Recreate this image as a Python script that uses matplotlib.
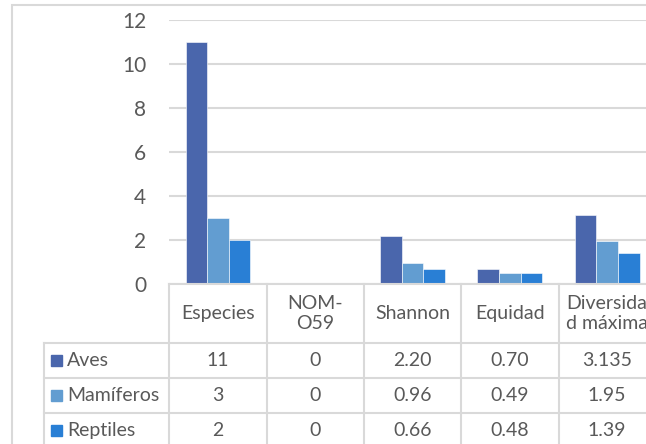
import matplotlib
matplotlib.use("Agg")
import matplotlib.pyplot as plt
import numpy as np
from matplotlib.lines import Line2D
from matplotlib.patches import Rectangle
from matplotlib.transforms import blended_transform_factory

# data
categories = ["Especies", "NOM-\nO59", "Shannon", "Equidad", "Diversida\nd máxima"]
series_names = ["Aves", "Mamíferos", "Reptiles"]
aves = [11, 0, 2.20, 0.70, 3.135]
mamiferos = [3, 0, 0.96, 0.49, 1.95]
reptiles = [2, 0, 0.66, 0.48, 1.39]
cell_formats = ["{:g}", "{:g}", "{:.2f}", "{:.2f}", "{:g}"]
yticks = [0, 2, 4, 6, 8, 10, 12]

colors = ["#4A66AC", "#629DD1", "#297FD5"]
grid_c = "#D9D9D9"
text_c = "#595959"
plt.rcParams["font.family"] = ["Lato", "DejaVu Sans"]

W, H = 646, 444
fig = plt.figure(figsize=(W / 100, H / 100), dpi=100)


def fx(x):
    return x / W


def fy(y):
    return 1 - y / H


# plot area in pixels
left, right, top, bottom = 169.3, 655.8, 20, 284
ax = fig.add_axes([fx(left), fy(bottom), fx(right - left), fy(top) - fy(bottom)])

x = np.arange(len(categories))
bw = 0.222
for i, (vals, c) in enumerate(zip([aves, mamiferos, reptiles], colors)):
    ax.bar(x + (i - 1) * bw, vals, width=bw, color=c, edgecolor="white",
           linewidth=0.4, zorder=3)

ax.set_xlim(-0.5, len(categories) - 0.5)
ax.set_ylim(0, 12)
ax.set_yticks(yticks)
ax.set_yticklabels([str(t) for t in yticks], fontsize=15, color=text_c)
ax.tick_params(axis="y", length=0, pad=16.5)
ax.set_xticks([])
ax.grid(axis="y", color=grid_c, linewidth=1.5, zorder=0)
for s in ax.spines.values():
    s.set_visible(False)

# data table under the axis
tr = blended_transform_factory(ax.transData, fig.transFigure)
row_y = [284, 343, 378, 413, 448]
leg_left = 43.5
fs = 14

# horizontal lines
for k, y in enumerate(row_y):
    x0 = fx(left) if k == 0 else fx(leg_left)
    fig.add_artist(Line2D([x0, 1.05], [fy(y), fy(y)], color=grid_c,
                          linewidth=1.5, transform=fig.transFigure))
# vertical lines
for b in np.arange(len(categories) + 1) - 0.5:
    fig.add_artist(Line2D([b, b], [fy(row_y[0]), fy(row_y[-1])], color=grid_c,
                          linewidth=1.5, transform=tr))
fig.add_artist(Line2D([fx(leg_left)] * 2, [fy(row_y[1]), fy(row_y[-1])],
                      color=grid_c, linewidth=1.5, transform=fig.transFigure))

# header
for i, cat in enumerate(categories):
    fig.text(i, fy((row_y[0] + row_y[1]) / 2), cat, transform=tr, ha="center",
             va="center", fontsize=fs, color=text_c, linespacing=1.25)

# rows
for r, (name, vals, c) in enumerate(zip(series_names, [aves, mamiferos, reptiles], colors)):
    yc = fy((row_y[r + 1] + row_y[r + 2]) / 2)
    fig.add_artist(Rectangle((fx(51), yc - 5.5 / H), 11 / W, 11 / H, color=c,
                             transform=fig.transFigure))
    fig.text(fx(67), yc, name, ha="left", va="center", fontsize=fs, color=text_c)
    for i, v in enumerate(vals):
        fig.text(i, yc, cell_formats[i].format(v), transform=tr, ha="center",
                 va="center", fontsize=fs, color=text_c)

# chart border
fig.add_artist(Rectangle((fx(11.5), -0.1), 1.2, fy(5) + 0.1, fill=False,
                         edgecolor=grid_c, linewidth=1.5,
                         transform=fig.transFigure))

fig.savefig("out.png", dpi=100, facecolor="white")
